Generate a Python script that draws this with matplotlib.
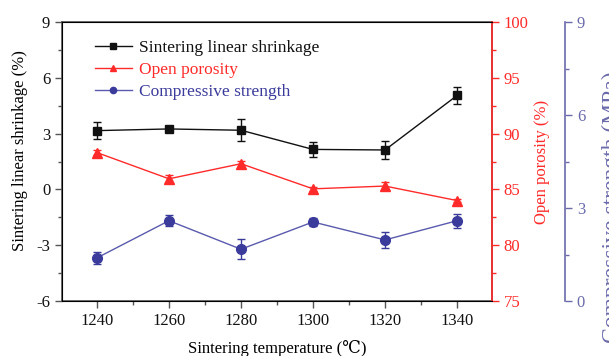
import matplotlib
matplotlib.use("Agg")
import matplotlib.pyplot as plt
from matplotlib.lines import Line2D
from matplotlib.ticker import MultipleLocator

plt.rcParams["font.family"] = ["Liberation Serif", "DejaVu Serif", "DejaVu Sans"]
plt.rcParams["axes.unicode_minus"] = False

# Temperatura de sinterização (°C)
temperatura = [1240, 1260, 1280, 1300, 1320, 1340]

# Retração linear (%) e desvio
retracao = [3.16, 3.25, 3.18, 2.15, 2.12, 5.05]
retracao_err = [0.45, 0.12, 0.6, 0.4, 0.5, 0.45]

# Porosidade aberta (%) e desvio
porosidade = [88.3, 85.95, 87.3, 85.05, 85.3, 84.0]
porosidade_err = [0.2, 0.35, 0.25, 0.15, 0.35, 0.15]

# Resistência à compressão (MPa) e desvio
resistencia = [1.39, 2.59, 1.67, 2.55, 1.97, 2.59]
resistencia_err = [0.2, 0.17, 0.32, 0.13, 0.26, 0.23]

rotulos = ["Sintering linear shrinkage", "Open porosity", "Compressive strength"]

cor_preto = "#111111"
cor_verm = "#ff2a2a"
cor_azul = "#3b3b9c"
cor_linha_azul = "#5a5aae"
cor_eixo_azul = "#6b6bab"
cor_eixo = "#555555"

fig = plt.figure(figsize=(6.09, 3.56), dpi=100)
ax = fig.add_axes([62 / 609, 1 - 301 / 356, 430 / 609, 279 / 356])
ax2 = ax.twinx()
ax3 = ax.twinx()
ax3.spines["right"].set_position(("axes", 1 + 73 / 430))

ax.errorbar(temperatura, retracao, yerr=retracao_err, color=cor_preto,
            marker="s", markersize=6, lw=1, capsize=3, elinewidth=1)
ax2.errorbar(temperatura, porosidade, yerr=porosidade_err, color=cor_verm,
             marker="^", markersize=7, lw=1, capsize=3, elinewidth=1)
ax3.errorbar(temperatura, resistencia, yerr=resistencia_err, color=cor_linha_azul,
             marker="o", markersize=7, mfc=cor_azul, mec=cor_azul,
             ecolor=cor_azul, lw=1, capsize=3, elinewidth=1)

ax.set_xlim(1230.3, 1349.7)
ax.set_xticks(temperatura)
ax.xaxis.set_minor_locator(MultipleLocator(10))
ax.set_ylim(-6, 9)
ax.yaxis.set_major_locator(MultipleLocator(3))
ax.yaxis.set_minor_locator(MultipleLocator(1.5))
ax2.set_ylim(75, 100)
ax2.yaxis.set_major_locator(MultipleLocator(5))
ax2.yaxis.set_minor_locator(MultipleLocator(2.5))
ax3.set_ylim(0, 9)
ax3.yaxis.set_major_locator(MultipleLocator(3))
ax3.yaxis.set_minor_locator(MultipleLocator(1.5))

# Estilo dos eixos
for s in ax.spines.values():
    s.set_color(cor_eixo)
    s.set_linewidth(1.2)
ax.tick_params(which="both", direction="out", colors=cor_eixo, labelcolor="#111111",
               labelsize=12, width=1)
ax.tick_params(which="major", length=5)
ax.tick_params(which="minor", length=3)

ax2.spines["right"].set_color(cor_verm)
ax2.spines["right"].set_linewidth(1.2)
ax2.tick_params(axis="y", which="both", colors=cor_verm, labelsize=12, width=1)
ax2.tick_params(which="major", length=5)
ax2.tick_params(which="minor", length=3)

for nome in ["top", "left", "bottom"]:
    ax3.spines[nome].set_visible(False)
ax3.spines["right"].set_color(cor_eixo_azul)
ax3.spines["right"].set_linewidth(1.2)
ax3.tick_params(axis="y", which="both", colors=cor_eixo_azul, labelsize=12, width=1)
ax3.tick_params(which="major", length=5)
ax3.tick_params(which="minor", length=3)

ax.set_xlabel("Sintering temperature (\u2103)", fontsize=12, labelpad=8)
ax.set_ylabel("Sintering linear shrinkage (%)", fontsize=12)
ax.yaxis.set_label_coords(-0.08, 0.54)
ax2.set_ylabel("Open porosity (%)", fontsize=12, color=cor_verm, labelpad=4)
# rótulo do terceiro eixo fica encostado na borda direita
fig.text(612 / 609, 1 - 207 / 356, "Compressive strength (MPa)", rotation=90,
         ha="center", va="center", fontsize=17, color=cor_eixo_azul)

# Legenda só com linha e marcador (sem barras de erro)
handles = [
    Line2D([], [], color=cor_preto, marker="s", markersize=4, lw=1),
    Line2D([], [], color=cor_verm, marker="^", markersize=5, lw=1),
    Line2D([], [], color=cor_linha_azul, marker="o", markersize=4.5,
           mfc=cor_azul, mec=cor_azul, lw=1),
]
leg = ax.legend(handles, rotulos, loc="upper left", bbox_to_anchor=(0.077, 0.935),
                frameon=False, fontsize=12.5, handlelength=2.1, handletextpad=0.4,
                labelspacing=0.32, borderaxespad=0, borderpad=0)
for txt, cor in zip(leg.get_texts(), [cor_preto, cor_verm, cor_azul]):
    txt.set_color(cor)

fig.savefig("out.png", dpi=100)
